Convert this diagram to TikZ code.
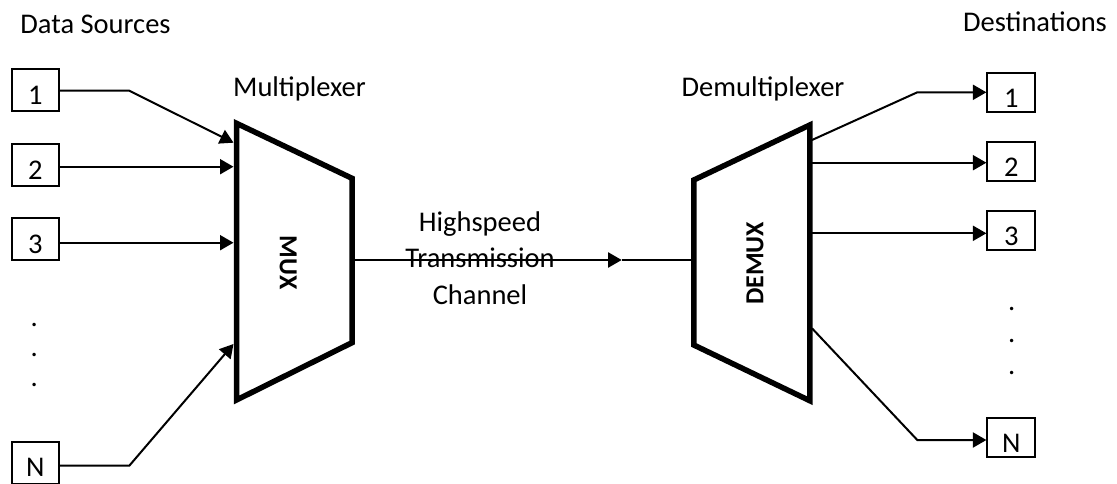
\documentclass[tikz,border=0pt]{standalone}
\usepackage{fontspec}
\setmainfont{Carlito}
\usetikzlibrary{arrows.meta,calc}
\begin{document}
\begin{tikzpicture}[x=1pt,y=-1pt,
  font=\fontsize{28.5}{36.5}\selectfont,
  conn/.style={line width=2pt},
  arr/.style={conn,-{Triangle[length=13.5pt,width=15pt]}},
  ibox/.style={draw,line width=1.8pt,minimum width=47pt,minimum height=42pt,inner sep=0pt,text height=28pt,text depth=0pt},
  obox/.style={draw,line width=1.8pt,minimum width=48pt,minimum height=39pt,inner sep=0pt,text height=31pt,text depth=0pt},
  trap/.style={line width=5.5pt,line join=miter},
  lbl/.style={anchor=base,inner sep=0pt},
  dotlbl/.style={inner sep=0pt},
  blocklbl/.style={font=\fontsize{26}{30}\selectfont\bfseries,inner sep=0pt}]
\useasboundingbox (0,0) rectangle (1117,483);

% titles
\node[lbl] (tsrc) at (95.5,33) {Data Sources};
\node[lbl] (tdst) at (1035,31.7) {Destinations};
\node[lbl] (tmux) at (299.5,96.7) {Multiplexer};
\node[lbl] (tdemux) at (763,96.7) {Demultiplexer};

% source boxes
\node[ibox] (s1) at (35.3,90) {1};
\node[ibox] (s2) at (35.3,165) {2};
\node[ibox] (s3) at (35.3,239.3) {3};
\node[ibox] (sN) at (35.3,462.7) {N};
\node[dotlbl] (sd1) at (34.3,325) {.};
\node[dotlbl] (sd2) at (34.3,355) {.};
\node[dotlbl] (sd3) at (34.3,385) {.};

% destination boxes
\node[obox] (t1) at (1011.3,92.2) {1};
\node[obox] (t2) at (1011.3,161.2) {2};
\node[obox] (t3) at (1011.3,230.3) {3};
\node[obox] (tN) at (1011.3,437.2) {N};
\node[dotlbl] (td1) at (1011.7,309.3) {.};
\node[dotlbl] (td2) at (1011.7,341) {.};
\node[dotlbl] (td3) at (1011.7,372.7) {.};

% MUX trapezoid
\draw[trap] (236.5,123.3) -- (352,178.3) -- (352,342.7) -- (236.5,400) -- cycle;
\node[blocklbl,rotate=-90] (mux) at (288.3,263) {MUX};
% DEMUX trapezoid
\draw[trap] (693.8,180) -- (809.8,125) -- (809.8,400.7) -- (693.8,345) -- cycle;
\node[blocklbl,rotate=90] (demux) at (755,263.3) {DEMUX};

% mux inputs
\coordinate (mi1) at (233.5,142.7);
\coordinate (mi2) at (233.5,166.7);
\coordinate (mi3) at (233.5,242.7);
\coordinate (miN) at (233.5,344);
\coordinate (b1) at (129.3,90.7);
\coordinate (bN) at (129.3,465.7);
\draw[arr] (s1.east |- b1) -- (b1) -- (mi1);
\draw[arr] (s2.east |- mi2) -- (mi2);
\draw[arr] (s3.east |- mi3) -- (mi3);
\draw[arr] (sN.east |- bN) -- (bN) -- (miN);

% channel
\coordinate (muxout) at (352,260);
\coordinate (chmid) at (621.7,260);
\coordinate (demuxin) at (693.8,260);
\draw[arr] (muxout) -- (chmid);
\draw[conn] (chmid) -- (demuxin);
\node[align=center,inner sep=0pt] (chan) at (480,258) {Highspeed\\Transmission\\Channel};

% demux outputs
\coordinate (mo1) at (812,140);
\coordinate (mo2) at (812,162.7);
\coordinate (mo3) at (812,233.3);
\coordinate (moN) at (812,328.3);
\coordinate (c1) at (917.3,92.3);
\coordinate (cN) at (917.3,440);
\draw[arr] (mo1) -- (c1) -- (t1.west |- c1);
\draw[arr] (mo2) -- (t2.west |- mo2);
\draw[arr] (mo3) -- (t3.west |- mo3);
\draw[arr] (moN) -- (cN) -- (tN.west |- cN);
\end{tikzpicture}
\end{document}
